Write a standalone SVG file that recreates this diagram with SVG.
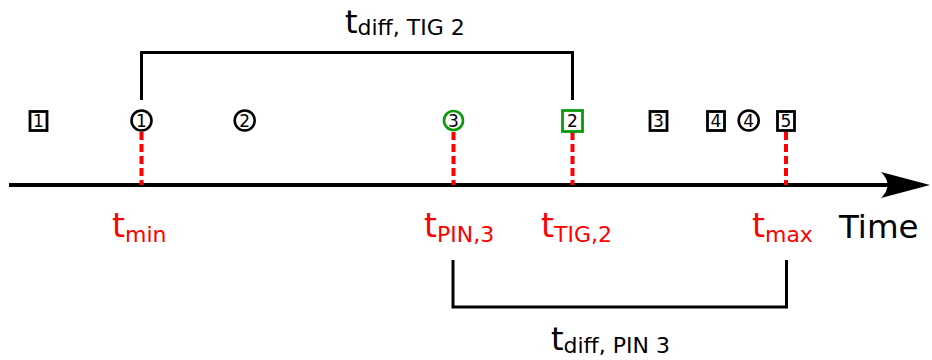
<svg xmlns="http://www.w3.org/2000/svg" width="932" height="360" viewBox="0 0 932 360">
<style>
text{font-family:"DejaVu Sans","Liberation Sans",sans-serif}
.num{font-size:17px;text-anchor:middle}
.sq{fill:#fff;stroke:#000;stroke-width:2.8}
.ci{fill:#fff;stroke:#000;stroke-width:2.6}
.green{stroke:#0a9a0a}
.red{stroke:#ff0000;stroke-width:4;stroke-dasharray:8 4;fill:none}
.br{fill:none;stroke:#000;stroke-width:3}
.lbl{fill:#ff0000;font-size:33px}
.sub{font-size:22px}
</style>
<g id="connectors">
<line x1="9" y1="185" x2="900" y2="185" stroke="#000" stroke-width="4"/>
<path d="M930,185 L881,172 Q894,185 881,198 Z" fill="#000"/>
<path class="br" d="M141.5,100 V52.5 H572.5 V100"/>
<path class="br" d="M453,260 V307 H786.5 V260"/>
<line class="red" x1="141.5" y1="132" x2="141.5" y2="185"/>
<line class="red" x1="453.5" y1="132" x2="453.5" y2="185"/>
<line class="red" x1="572.5" y1="132" x2="572.5" y2="185"/>
<line class="red" x1="786" y1="132" x2="786" y2="185"/>
</g>
<g id="sq1"><rect class="sq" x="30" y="111.5" width="17" height="19"/><text class="num" x="38.5" y="127">1</text></g>
<g id="ci1"><circle class="ci" cx="141.5" cy="120.5" r="10"/><text class="num" x="141.5" y="126.5">1</text></g>
<g id="ci2"><circle class="ci" cx="244.7" cy="120.5" r="10"/><text class="num" x="244.7" y="126.5">2</text></g>
<g id="ci3"><circle class="ci green" cx="453.5" cy="120.5" r="9.5"/><text class="num" x="453.5" y="126.5">3</text></g>
<g id="sq2"><rect class="sq green" x="562.5" y="110.5" width="20" height="21"/><text class="num" x="572.5" y="127">2</text></g>
<g id="sq3"><rect class="sq" x="650" y="111.5" width="17" height="19"/><text class="num" x="658.5" y="127">3</text></g>
<g id="sq4"><rect class="sq" x="707.5" y="111.5" width="17" height="19"/><text class="num" x="716" y="127">4</text></g>
<g id="ci4"><circle class="ci" cx="748.7" cy="120.5" r="10"/><text class="num" x="748.7" y="126.5">4</text></g>
<g id="sq5"><rect class="sq" x="777.5" y="111.5" width="17" height="19"/><text class="num" x="786" y="127">5</text></g>
<g id="labels">
<text class="lbl" x="112" y="237">t<tspan class="sub" dy="5">min</tspan></text>
<text class="lbl" x="424" y="237">t<tspan class="sub" dy="5">PIN,3</tspan></text>
<text class="lbl" x="541" y="237">t<tspan class="sub" dy="5">TIG,2</tspan></text>
<text class="lbl" x="752" y="237">t<tspan class="sub" dy="5">max</tspan></text>
<text x="839" y="238" font-size="32.5" fill="#000">Time</text>
<text x="345" y="33" font-size="32" fill="#000">t<tspan class="sub" dy="2">diff, TIG 2</tspan></text>
<text x="551" y="350" font-size="32" fill="#000">t<tspan class="sub" dy="3">diff, PIN 3</tspan></text>
</g>
</svg>
